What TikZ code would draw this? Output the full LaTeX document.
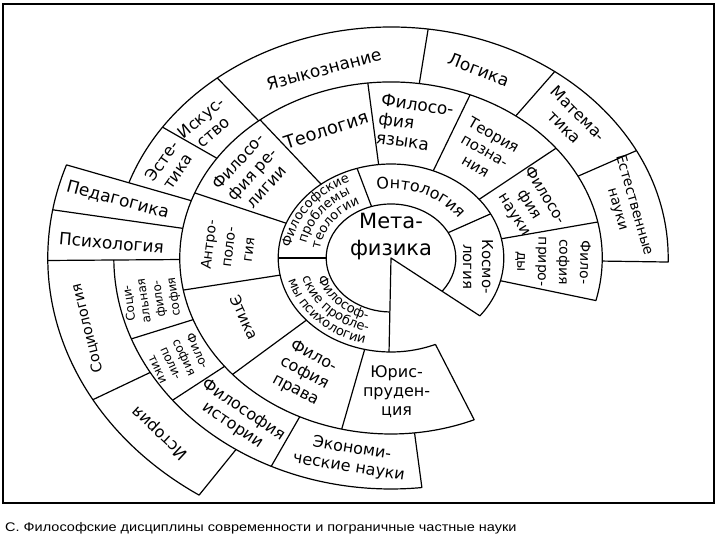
\documentclass[tikz,border=0pt]{standalone}
\usepackage{graphicx}
\usepackage{fontspec}
\setmainfont{DejaVu Sans}
\newfontfamily\capfont{Liberation Sans}
\usetikzlibrary{decorations.text}

\newcommand{\rMeta}{54pt}
\newcommand{\rOne}{94pt}
\newcommand{\rTwo}{176pt}
\newcommand{\rThree}{231pt}
\newcommand{\rFour}{286pt}
\newcommand{\labsize}[2]{\fontsize{#1}{#2}\selectfont}

\tikzset{
  ring/.style={line width=1.2pt, line join=round},
  lab/.style={align=center, inner sep=0pt, font=\labsize{16}{19}},
  curved/.style={decorate, decoration={text along path, text align=center, text={#1}}},
}

\begin{document}
\begin{tikzpicture}[x=1pt,y=1pt]
\useasboundingbox (0,0) rectangle (720,540);
\draw[line width=1.2pt] (3,37) rectangle (714,536);
\node[anchor=west, inner sep=0pt] (caption) at (5,12)
  {\capfont\fontsize{12.5}{14}\selectfont\scalebox{1.16}[1]{С. Философские дисциплины современности и пограничные частные науки}};

\begin{scope}[shift={(391,282)}, xscale=1.2]
  % metaphysics, cut open to the lower right
  \draw[ring] (-38:\rOne) -- (0,0) -- (-91:\rOne);
  \draw[ring] (-38:\rMeta) arc (-38:269:\rMeta);
  \draw[ring] (-38:\rOne) arc (-38:293.2:\rOne);
  % second ring
  \draw[ring] (-14:\rOne) -- (-14:\rTwo) arc (-14:293.2:\rTwo) -- (293.2:\rOne);
  % third ring
  \draw[ring] (-1:\rTwo) -- (-1:\rThree) arc (-1:161:\rThree);
  \draw[ring] (180.5:\rThree) arc (180.5:276.4:\rThree) -- (276.4:\rTwo);
  % outer ring on the left
  \draw[ring] (161:\rTwo) -- (161:\rFour) arc (161:236:\rFour) -- (236:\rThree);
  % dividers
  \foreach \a in {28,107.5,180}
    \draw[ring] (\a:\rMeta) -- (\a:\rOne);
  \foreach \a in {11.8,38.6,68,96.3,128.3,158.3,190.5,221.4,256.5}
    \draw[ring] (\a:\rOne) -- (\a:\rTwo);
  \foreach \a in {27.7,53.8,82.3,128.8,145.5,200.5,218,244.4}
    \draw[ring] (\a:\rTwo) -- (\a:\rThree);
  \foreach \a in {170.3,180.5}
    \draw[ring] (\a:\rTwo) -- (\a:\rFour);
  \draw[ring] (209.7:\rThree) -- (209.7:\rFour);

  % centre and first ring
  \node[lab, font=\labsize{21}{27}] (meta) at (0,21) {Мета-\\физика};
  \path[curved={|\labsize{16}{18}|Онтология}] (104:69pt) arc (104:30:69pt);
  \path[curved={|\labsize{13}{15}|Философские}] (179:84pt) arc (179:109:84pt);
  \path[curved={|\labsize{13}{15}|проблемы}] (179:72pt) arc (179:109:72pt);
  \path[curved={|\labsize{13}{15}|теологии}] (179:60pt) arc (179:109:60pt);
  \path[curved={|\labsize{13}{15}|Философ-}] (181:64.5pt) arc (181:267:64.5pt);
  \path[curved={|\labsize{13}{15}|ские пробле-}] (181:76.5pt) arc (181:267:76.5pt);
  \path[curved={|\labsize{13}{15}|мы психологии}] (181:88.5pt) arc (181:267:88.5pt);
  \node[lab, font=\labsize{15}{19}, rotate=-90] (cosmo) at (-7:73pt) {Космо-\\логия};

  % second ring
  \node[lab, font=\labsize{14}{21}, rotate=-91] (natphil) at (-1.7:135pt) {Фило-\\софия\\приро-\\ды};
  \node[lab, font=\labsize{15}{18}, rotate=-58] (sciphil) at (24.6:127pt) {Филосо-\\фия\\науки};
  \node[lab, font=\labsize{15}{18}, rotate=-30] (episteme) at (54:133pt) {Теория\\позна-\\ния};
  \node[lab, font=\labsize{17}{19}, align=left, rotate=-8] (langphil) at (81.6:136pt) {Филосо-\\фия\\языка};
  \node[lab, font=\labsize{18}{20}, rotate=18] (theology) at (112.9:139pt) {Теология};
  \node[lab, rotate=48] (relphil) at (144:143pt) {Филосо-\\фия ре-\\лигии};
  \node[lab, font=\labsize{14}{20}, rotate=83] (anthro) at (175.4:136pt) {Антро-\\поло-\\гия};
  \node[lab, font=\labsize{15}{18}, rotate=-65] (ethics) at (206:135.7pt) {Этика};
  \node[lab, rotate=-28] (lawphil) at (238:136pt) {Фило-\\софия\\права};
  \node[lab] (jurispr) at (272:134pt) {Юрис-\\пруден-\\ция};

  % third ring
  \node[lab, font=\labsize{14}{17}, rotate=-74] (natsci) at (14.5:202pt) {Естественные\\науки};
  \node[lab, rotate=-45] (maths) at (42.5:204pt) {Матема-\\тика};
  \node[lab, font=\labsize{17}{19}, rotate=-21] (logic) at (68.8:202pt) {Логика};
  \node[lab, font=\labsize{17}{19}, rotate=15] (linguist) at (106.5:197pt) {Языкознание};
  \node[lab, rotate=40] (art) at (139:203pt) {Искус-\\ство};
  \node[lab, rotate=55] (aesth) at (153.5:206pt) {Эсте-\\тика};
  \node[lab, font=\labsize{17}{19}, rotate=-15] (pedag) at (165.7:235pt) {Педагогика};
  \node[lab, font=\labsize{17}{19}, rotate=-5] (psych) at (176.3:233.5pt) {Психология};
  \node[lab, font=\labsize{12}{15}, rotate=98] (socphil) at (191.9:203.5pt) {Соци-\\альная\\фило-\\софия};
  \node[lab, font=\labsize{12}{14.5}, rotate=-65] (polphil) at (209.9:204.7pt) {Фило-\\софия\\поли-\\тики};
  \node[lab, rotate=-34] (histphil) at (231.4:204.6pt) {Философия\\истории};
  \node[lab, rotate=-9] (econ) at (260.4:203pt) {Экономи-\\ческие науки};

  % outer ring
  \node[lab, font=\labsize{14.5}{17}, rotate=104] (sociol) at (195.5:262.7pt) {Социология};
  \node[lab, rotate=137] (history) at (222.3:260pt) {История};
\end{scope}
\end{tikzpicture}
\end{document}
